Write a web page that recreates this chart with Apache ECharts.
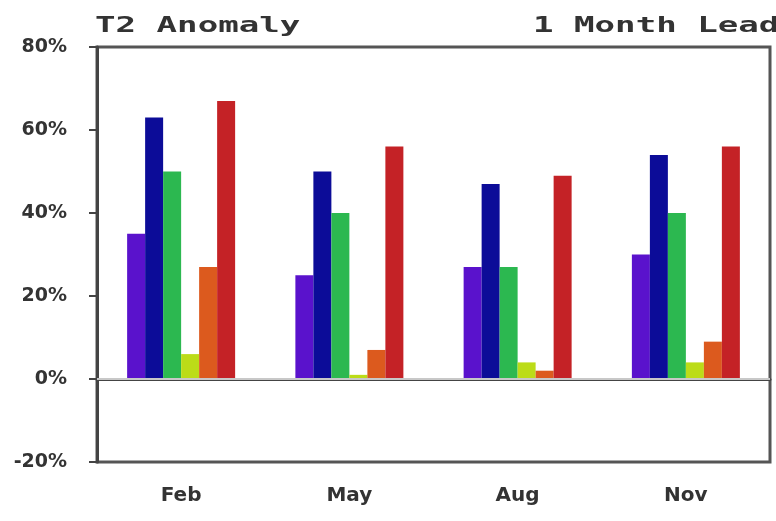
<!DOCTYPE html>
<html>
<head>
<meta charset="utf-8">
<script src="https://cdn.jsdelivr.net/npm/echarts@6/dist/echarts.min.js"></script>
<style>
  html, body { margin: 0; padding: 0; background: #fff; }
  #chart { width: 776px; height: 521px; }
</style>
</head>
<body>
<div id="chart"></div>
<script>
// Seasonal skill of the T2 anomaly forecast, 1 month lead
const seasons = ['Feb', 'May', 'Aug', 'Nov'];

const modelA = [35, 25, 27, 30];
const modelB = [63, 50, 47, 54];
const modelC = [50, 40, 27, 40];
const modelD = [6, 1, 4, 4];
const modelE = [27, 7, 2, 9];
const modelF = [67, 56, 49, 56];

const yTicks = { min: -20, max: 80, interval: 20 };

const seriesDefs = [
  { name: 'A', data: modelA, color: '#5a12cc' },
  { name: 'B', data: modelB, color: '#0c0c98' },
  { name: 'C', data: modelC, color: '#2cb850' },
  { name: 'D', data: modelD, color: '#bcdc18' },
  { name: 'E', data: modelE, color: '#dc5a1e' },
  { name: 'F', data: modelF, color: '#c42226' }
];

const chart = echarts.init(document.getElementById('chart'), null, { renderer: 'canvas' });

const series = seriesDefs.map((s, i) => {
  const item = {
    name: s.name,
    type: 'bar',
    data: s.data,
    barWidth: 18,
    barGap: '0%',
    itemStyle: { color: s.color },
    silent: true
  };
  if (i === 0) {
    // zero reference line across the plot
    item.markLine = {
      silent: true,
      symbol: 'none',
      label: { show: false },
      lineStyle: { color: '#c8c8c8', width: 2, type: 'solid' },
      data: [{ yAxis: 0 }]
    };
  }
  return item;
});

const labelFont = {
  color: '#333',
  fontFamily: '"DejaVu Sans"',
  fontWeight: 'bold',
  fontSize: 19
};

chart.setOption({
  animation: false,
  backgroundColor: '#fff',
  grid: {
    left: 97, right: 6, top: 47, bottom: 59,
    show: true,
    borderColor: '#555',
    borderWidth: 3,
    backgroundColor: 'transparent'
  },
  xAxis: {
    type: 'category',
    data: seasons,
    axisLine: { lineStyle: { color: '#444', width: 3 } },
    axisTick: { alignWithLabel: true, length: 8, lineStyle: { color: '#444', width: 2 } },
    axisLabel: Object.assign({ margin: 24 }, labelFont, { fontSize: 20 }),
    splitLine: { show: false }
  },
  yAxis: {
    type: 'value',
    min: yTicks.min,
    max: yTicks.max,
    interval: yTicks.interval,
    axisLine: { show: true, lineStyle: { color: '#444', width: 3 } },
    axisTick: { show: true, length: 8, lineStyle: { color: '#444', width: 2 } },
    axisLabel: Object.assign({ margin: 30, formatter: '{value}%' }, labelFont),
    splitLine: { show: false }
  },
  graphic: [
    {
      type: 'text', x: 95, y: 15, scaleX: 1.55,
      style: { text: 'T2 Anomaly', font: 'bold 22px "DejaVu Sans Mono"', fill: '#333' }
    },
    {
      type: 'text', x: 533, y: 15, scaleX: 1.55,
      style: { text: '1 Month Lead', font: 'bold 22px "DejaVu Sans Mono"', fill: '#333' }
    }
  ],
  series: series
});
</script>
</body>
</html>
